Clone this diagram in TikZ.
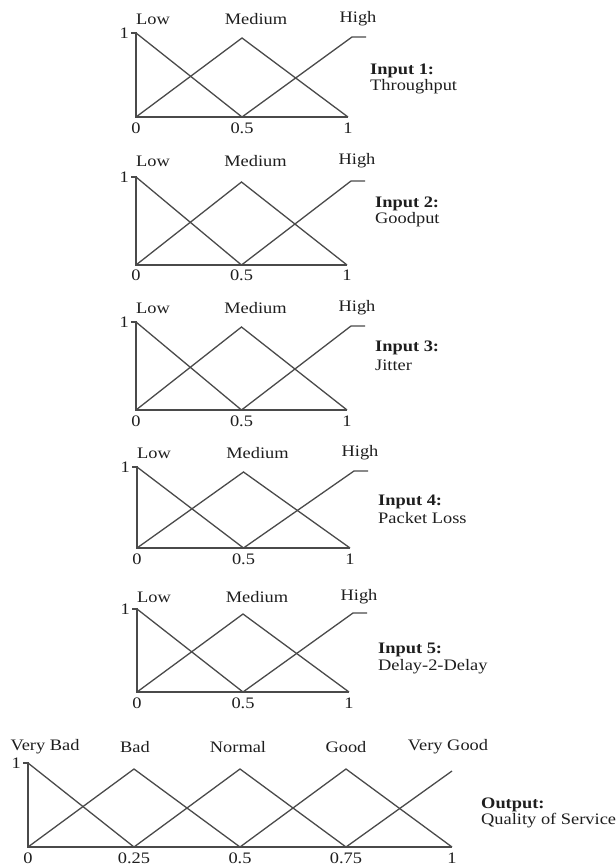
\documentclass[tikz,border=0pt]{standalone}
\usepackage{fontspec}
\setmainfont{Liberation Serif}[FakeStretch=1.15]
\usetikzlibrary{calc}
\newcommand\lblfont{\fontsize{16}{17}\selectfont}
\definecolor{curve}{HTML}{4A4A4A}
\definecolor{ink}{HTML}{1E1E1E}
\tikzset{
  mf/.style={draw=curve,line width=1.3pt,line join=miter},
  lbl/.style={inner sep=0pt,text=ink,font=\lblfont},
  side/.style={inner sep=0pt,text=ink,font=\lblfont,anchor=west},
}
\begin{document}
\begin{tikzpicture}[x=1pt,y=-1pt]
\useasboundingbox (0,0) rectangle (616,868);
\fill[white] (0,0) rectangle (616,868);
\foreach \i/\xa/\xb/\yt/\yb/\yl/\yk/\sx/\sya/\syb/\nm in {
  1/136/348/33/117/19/128/370/71/87/Throughput,
  2/136/347/177/265/161/275/375/204/220/Goodput,
  3/136/347/322/410/308/421/375/348/365/Jitter,
  4/137/350/467/548/453/559/378/502/518/Packet Loss,
  5/137/349/609/692/597/703/378/650/667/Delay-2-Delay}{
  \pgfmathsetmacro\xm{(\xa+\xb)/2}
  \coordinate (T\i) at (\xa,\yt);
  \coordinate (O\i) at (\xa,\yb);
  \coordinate (M\i) at (\xm,\yb);
  \coordinate (E\i) at (\xb,\yb);
  \coordinate (P\i) at (\xm,\yt+5);
  \coordinate (H\i) at (\xb+4,\yt+4);
  \coordinate (HE\i) at (\xb+18,\yt+4);
  \coordinate (K\i) at (\xa-5,\yt);
  \draw[mf] (K\i) -- (T\i) -- (O\i) -- (E\i);
  \draw[mf] (T\i) -- (M\i);
  \draw[mf] (O\i) -- (P\i) -- (E\i);
  \draw[mf] (M\i) -- (H\i) -- (HE\i);
  \node[lbl,anchor=east] (one\i) at (\xa-7,\yt) {1};
  \node[lbl] (low\i) at (\xa+17,\yl) {Low};
  \node[lbl] (med\i) at (\xm+14,\yl) {Medium};
  \node[lbl] (high\i) at (\xb+10,\yl) {High};
  \node[lbl] (z\i) at (\xa,\yk) {0};
  \node[lbl] (h\i) at (\xm,\yk) {0.5};
  \node[lbl] (u\i) at (\xb,\yk) {1};
  \node[side] (in\i) at (\sx,\sya) {\bfseries Input \i:};
  \node[side] (nm\i) at (\sx,\syb) {\nm};
}
% output chart
\def\xa{28}\def\xb{452}\def\yt{763}\def\yb{847}
\coordinate (oT) at (28,763);
\coordinate (oO) at (28,847);
\coordinate (oA) at (134,847);
\coordinate (oB) at (240,847);
\coordinate (oC) at (346,847);
\coordinate (oE) at (452,847);
\coordinate (pA) at (134,769);
\coordinate (pB) at (240,769);
\coordinate (pC) at (346,769);
\coordinate (pE) at (452,771);
\coordinate (oK) at (23,763);
\draw[mf] (oK) -- (oT) -- (oO) -- (oE);
\draw[mf] (oT) -- (oA);
\draw[mf] (oO) -- (pA) -- (oB);
\draw[mf] (oA) -- (pB) -- (oC);
\draw[mf] (oB) -- (pC) -- (oE);
\draw[mf] (oC) -- (pE);
\node[lbl,anchor=east] (oone) at (21,763) {1};
\node[lbl] (vb) at (45,747) {Very Bad};
\node[lbl] (bd) at (135,747) {Bad};
\node[lbl] (nr) at (238,747) {Normal};
\node[lbl] (gd) at (346,747) {Good};
\node[lbl] (vg) at (448,747) {Very Good};
\node[lbl] (t0) at (28,858) {0};
\node[lbl] (t1) at (134,858) {0.25};
\node[lbl] (t2) at (240,858) {0.5};
\node[lbl] (t3) at (346,858) {0.75};
\node[lbl] (t4) at (452,858) {1};
\node[side] (outl) at (481,805) {\bfseries Output:};
\node[side] (qos) at (481,821) {Quality of Service};
\end{tikzpicture}
\end{document}
